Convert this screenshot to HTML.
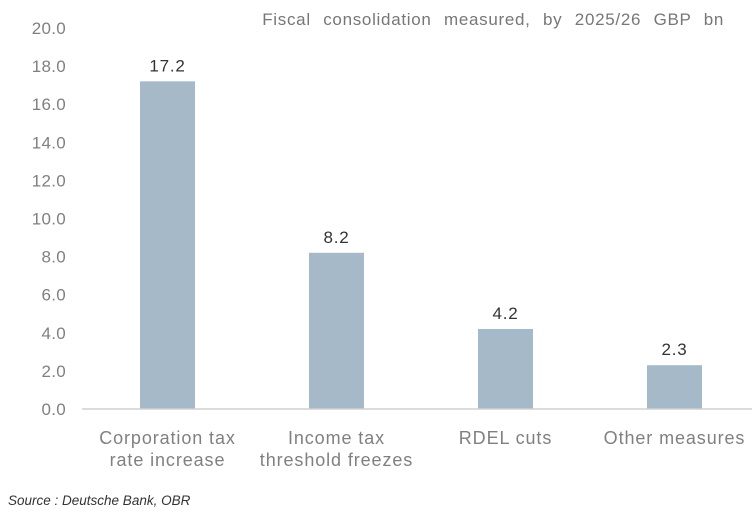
<!DOCTYPE html>
<html><head><meta charset="utf-8"><style>
body{margin:0;background:#fff;width:752px;height:515px;overflow:hidden;font-family:"Liberation Sans",sans-serif}
</style></head><body>
<svg id="chart" width="752" height="515" xmlns="http://www.w3.org/2000/svg">
<text x="724" y="25" text-anchor="end" font-size="17" letter-spacing="0.7" word-spacing="7" fill="#777">Fiscal consolidation measured, by 2025/26 GBP bn</text>
<g id="yaxis"></g>
<g id="bars"></g>
<line x1="82" y1="409" x2="759" y2="409" stroke="#d0d0d0" stroke-width="1.5"/>
<g id="xaxis"></g>
<text x="8" y="505" font-size="13.5" font-style="italic" fill="#333">Source : Deutsche Bank, OBR</text>
</svg>
<script>
const categories=[["Corporation tax","rate increase"],["Income tax","threshold freezes"],["RDEL cuts"],["Other measures"]];
const values=[17.2,8.2,4.2,2.3];
const yTicks=[0,2,4,6,8,10,12,14,16,18,20];
const NS="http://www.w3.org/2000/svg";
const y0=409,pxPer=19.05,left=83,band=169,barW=55;
const yS=v=>y0-v*pxPer;
const xC=i=>left+band*(i+0.5);
function mk(tag,attrs,parent,txt){const e=document.createElementNS(NS,tag);for(const k in attrs)e.setAttribute(k,attrs[k]);if(txt!==undefined)e.textContent=txt;parent.appendChild(e);return e;}
const ya=document.getElementById('yaxis'),bg=document.getElementById('bars'),xa=document.getElementById('xaxis');
yTicks.forEach(t=>{
 const e=mk('text',{x:66,y:yS(t)+6,'text-anchor':'end','font-size':17,'letter-spacing':0.3,fill:'#808080'},ya,t.toFixed(1));
 
 
});
values.forEach((v,i)=>{
 const r=mk('rect',{x:xC(i)-barW/2,y:yS(v),width:barW,height:v*pxPer,fill:'#a6b9c8'},bg);
 
 
 const l=mk('text',{x:xC(i),y:yS(v)-10,'text-anchor':'middle','font-size':17,'letter-spacing':0.8,fill:'#333'},bg,v.toFixed(1));
 
 
});
categories.forEach((c,i)=>{
 c.forEach((line,j)=>{
  const t=mk('text',{x:xC(i),y:444+j*22,'text-anchor':'middle','font-size':18,'letter-spacing':0.9,fill:'#808080'},xa,line);
  
  
 });
});
</script>
</body></html>
